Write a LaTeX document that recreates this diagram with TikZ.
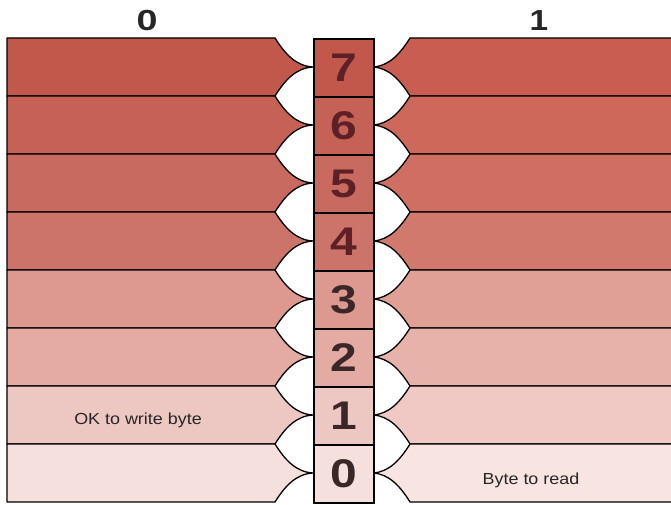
\documentclass[tikz,border=0pt]{standalone}
\usepackage{fontspec}
\setmainfont{Liberation Sans}
\definecolor{Lc0}{RGB}{194,88,76}
\definecolor{Lc1}{RGB}{198,97,85}
\definecolor{Lc2}{RGB}{200,106,95}
\definecolor{Lc3}{RGB}{204,116,105}
\definecolor{Lc4}{RGB}{221,153,144}
\definecolor{Lc5}{RGB}{228,171,163}
\definecolor{Lc6}{RGB}{237,200,195}
\definecolor{Lc7}{RGB}{245,224,221}
\definecolor{Rc0}{RGB}{202,93,82}
\definecolor{Rc1}{RGB}{205,104,90}
\definecolor{Rc2}{RGB}{207,111,97}
\definecolor{Rc3}{RGB}{208,121,108}
\definecolor{Rc4}{RGB}{224,160,150}
\definecolor{Rc5}{RGB}{231,178,170}
\definecolor{Rc6}{RGB}{240,201,196}
\definecolor{Rc7}{RGB}{248,228,225}
\definecolor{numA}{RGB}{92,32,38}
\definecolor{numB}{RGB}{58,40,40}
\tikzset{
  band/.style={draw=black, line width=1.3pt, line join=round},
  bitbox/.style={draw=black, line width=1.9pt, minimum width=60pt, minimum height=58pt, inner sep=0pt, anchor=north west,
     font=\fontsize{40}{40}\selectfont\bfseries},
  head/.style={font=\fontsize{29}{29}\selectfont\bfseries, text=black!85},
  lab/.style={font=\fontsize{16}{16}\selectfont, text=black!85}
}
\newcommand{\widen}[2]{\scalebox{#1}[1]{#2}}
\begin{document}
\begin{tikzpicture}[x=1pt,y=-1pt]
\useasboundingbox (0,0) rectangle (671,505);
\begin{scope}
\clip (0,0) rectangle (671,505);
\foreach \i in {0,...,7}{
  \pgfmathsetmacro{\t}{38+58*\i}
  % left band
  \fill[Lc\i] (7,\t) -- (275,\t) .. controls (285,\t+16) and (296,\t+28) .. (313,\t+29)
     .. controls (296,\t+30) and (285,\t+42) .. (275,\t+58) -- (7,\t+58) -- cycle;
  \draw[band] (7,\t) -- (275,\t) .. controls (285,\t+16) and (296,\t+28) .. (313,\t+29)
     .. controls (296,\t+30) and (285,\t+42) .. (275,\t+58) -- (7,\t+58) -- cycle;
  % right band
  \fill[Rc\i] (680,\t) -- (410,\t) .. controls (400,\t+16) and (389,\t+28) .. (373,\t+29)
     .. controls (389,\t+30) and (400,\t+42) .. (410,\t+58) -- (680,\t+58) -- cycle;
  \draw[band] (680,\t) -- (410,\t) .. controls (400,\t+16) and (389,\t+28) .. (373,\t+29)
     .. controls (389,\t+30) and (400,\t+42) .. (410,\t+58) -- (680,\t+58);
}
\end{scope}
\foreach \i/\n in {0/7,1/6,2/5,3/4}{
  \node[bitbox, fill=Lc\i, text=numA] (b\n) at (313,38+58*\i) {\widen{1.2}{\n}};
}
\foreach \i/\n in {4/3,5/2,6/1,7/0}{
  \node[bitbox, fill=Lc\i, text=numB] (b\n) at (313,38+58*\i) {\widen{1.2}{\n}};
}
\node[head] (h0) at (147,21) {\widen{1.3}{0}};
\node[head] (h1) at (539,21) {\widen{1.15}{1}};
\node[lab] (ok) at (138,420) {\widen{1.12}{OK to write byte}};
\node[lab] (rd) at (531,480) {\widen{1.12}{Byte to read}};
\end{tikzpicture}
\end{document}
